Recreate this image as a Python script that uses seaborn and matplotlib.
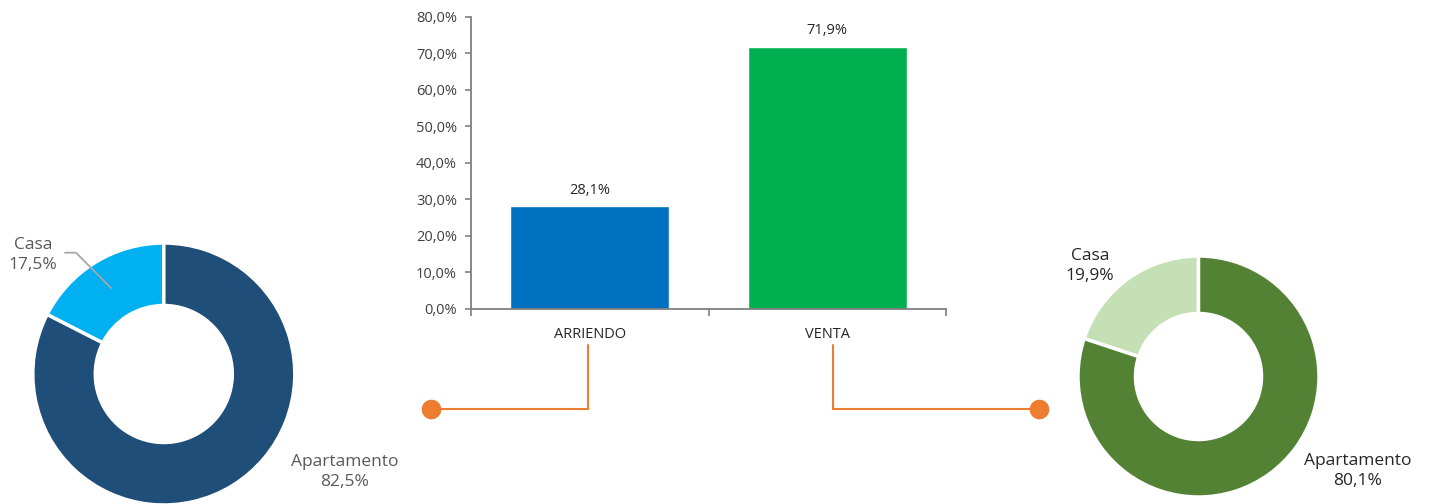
import matplotlib
matplotlib.use("Agg")
import matplotlib.pyplot as plt
import seaborn as sns
import numpy as np
import pandas as pd

# ---- data ----
bar_categories = ["ARRIENDO", "VENTA"]
bar_values = [0.281, 0.719]
bar_labels = ["28,1%", "71,9%"]
y_ticks = [0.0, 0.1, 0.2, 0.3, 0.4, 0.5, 0.6, 0.7, 0.8]
y_tick_labels = ["0,0%", "10,0%", "20,0%", "30,0%", "40,0%", "50,0%", "60,0%", "70,0%", "80,0%"]

pie_categories = ["Casa", "Apartamento"]
arriendo_values = [17.5, 82.5]
arriendo_labels = ["17,5%", "82,5%"]
venta_values = [19.9, 80.1]
venta_labels = ["19,9%", "80,1%"]

bar_colors = ["#0070C0", "#00B050"]
arriendo_colors = ["#00B0F0", "#1F4E79"]
venta_colors = ["#C5E0B4", "#548235"]
orange = "#ED7D31"

sns.set_theme(style="white")
plt.rcParams["font.family"] = ["Open Sans", "DejaVu Sans"]

W, H = 1429, 504
fig = plt.figure(figsize=(W / 100, H / 100), dpi=100)

# ---- bar chart ----
axb = fig.add_axes([471 / W, 1 - 308.5 / H, (946 - 471) / W, (308.5 - 17) / H])
df = pd.DataFrame({"cat": bar_categories, "val": bar_values})
sns.barplot(data=df, x="cat", y="val", hue="cat", palette=bar_colors,
            width=0.67, legend=False, ax=axb, saturation=1)
axb.set_xlim(-0.5, 1.5)
axb.set_ylim(0, 0.8)
axb.set_yticks(y_ticks)
axb.set_yticklabels(y_tick_labels)
axb.set_xlabel("")
axb.set_ylabel("")
for s in ["top", "right"]:
    axb.spines[s].set_visible(False)
for s in ["left", "bottom"]:
    axb.spines[s].set_color("#7F7F7F")
    axb.spines[s].set_linewidth(1.3)
axb.tick_params(axis="y", which="major", direction="out", length=4, width=1.2,
                color="#7F7F7F", labelsize=10.5, labelcolor="#404040", pad=6, left=True)
axb.tick_params(axis="x", which="major", length=0, labelsize=10.5, labelcolor="#262626", pad=13)
axb.set_xticks([-0.5, 0.5, 1.5], minor=True)
axb.tick_params(axis="x", which="minor", direction="out", length=5, width=1.2,
                color="#7F7F7F", bottom=True)
for i, (v, lab) in enumerate(zip(bar_values, bar_labels)):
    axb.text(i, v + 0.022, lab, ha="center", va="bottom", fontsize=10.5, color="#262626")

# ---- overlay axes in pixel coordinates (y up) ----
ax = fig.add_axes([0, 0, 1, 1], zorder=-1)
ax.set_facecolor("none")

wp = dict(edgecolor="white", linewidth=2.5)
cxL, cyL, RL = 163.8, H - 374.0, 131.0
ax.pie(arriendo_values, colors=arriendo_colors, startangle=90, counterclock=True,
       center=(cxL, cyL), radius=RL, wedgeprops=dict(width=RL - 68.5, **wp))
cxR, cyR, RR = 1198.5, H - 376.5, 120.5
ax.pie(venta_values, colors=venta_colors, startangle=90, counterclock=True,
       center=(cxR, cyR), radius=RR, wedgeprops=dict(width=RR - 63.0, **wp))

ax.set_xlim(0, W)
ax.set_ylim(0, H)
ax.set_aspect("auto")
ax.axis("off")

fs = 12.5
# left donut labels
ax.text(33, H - 255, f"{pie_categories[0]}\n{arriendo_labels[0]}", ha="center", va="center",
        fontsize=fs, color="#595959", linespacing=1.3)
ax.plot([65, 76, 111], [H - 252.7, H - 252.7, H - 288], color="#A6A6A6", lw=1.3)
ax.text(345, H - 472, f"{pie_categories[1]}\n{arriendo_labels[1]}", ha="center", va="center",
        fontsize=fs, color="#595959", linespacing=1.3)
# right donut labels
ax.text(1090, H - 266, f"{pie_categories[0]}\n{venta_labels[0]}", ha="center", va="center",
        fontsize=fs, color="#262626", linespacing=1.3)
ax.text(1358, H - 471, f"{pie_categories[1]}\n{venta_labels[1]}", ha="center", va="center",
        fontsize=fs, color="#262626", linespacing=1.3)

# orange connectors
ax.plot([588.3, 588.3, 431], [H - 345, H - 409.3, H - 409.3], color=orange, lw=1.5,
        solid_joinstyle="miter")
ax.plot([832.7, 832.7, 1039], [H - 345, H - 409.3, H - 409.3], color=orange, lw=1.5,
        solid_joinstyle="miter")
ax.scatter([431, 1039], [H - 409.3, H - 409.3], s=200, color=orange, zorder=5, linewidths=0)

fig.savefig("out.png", dpi=100)
